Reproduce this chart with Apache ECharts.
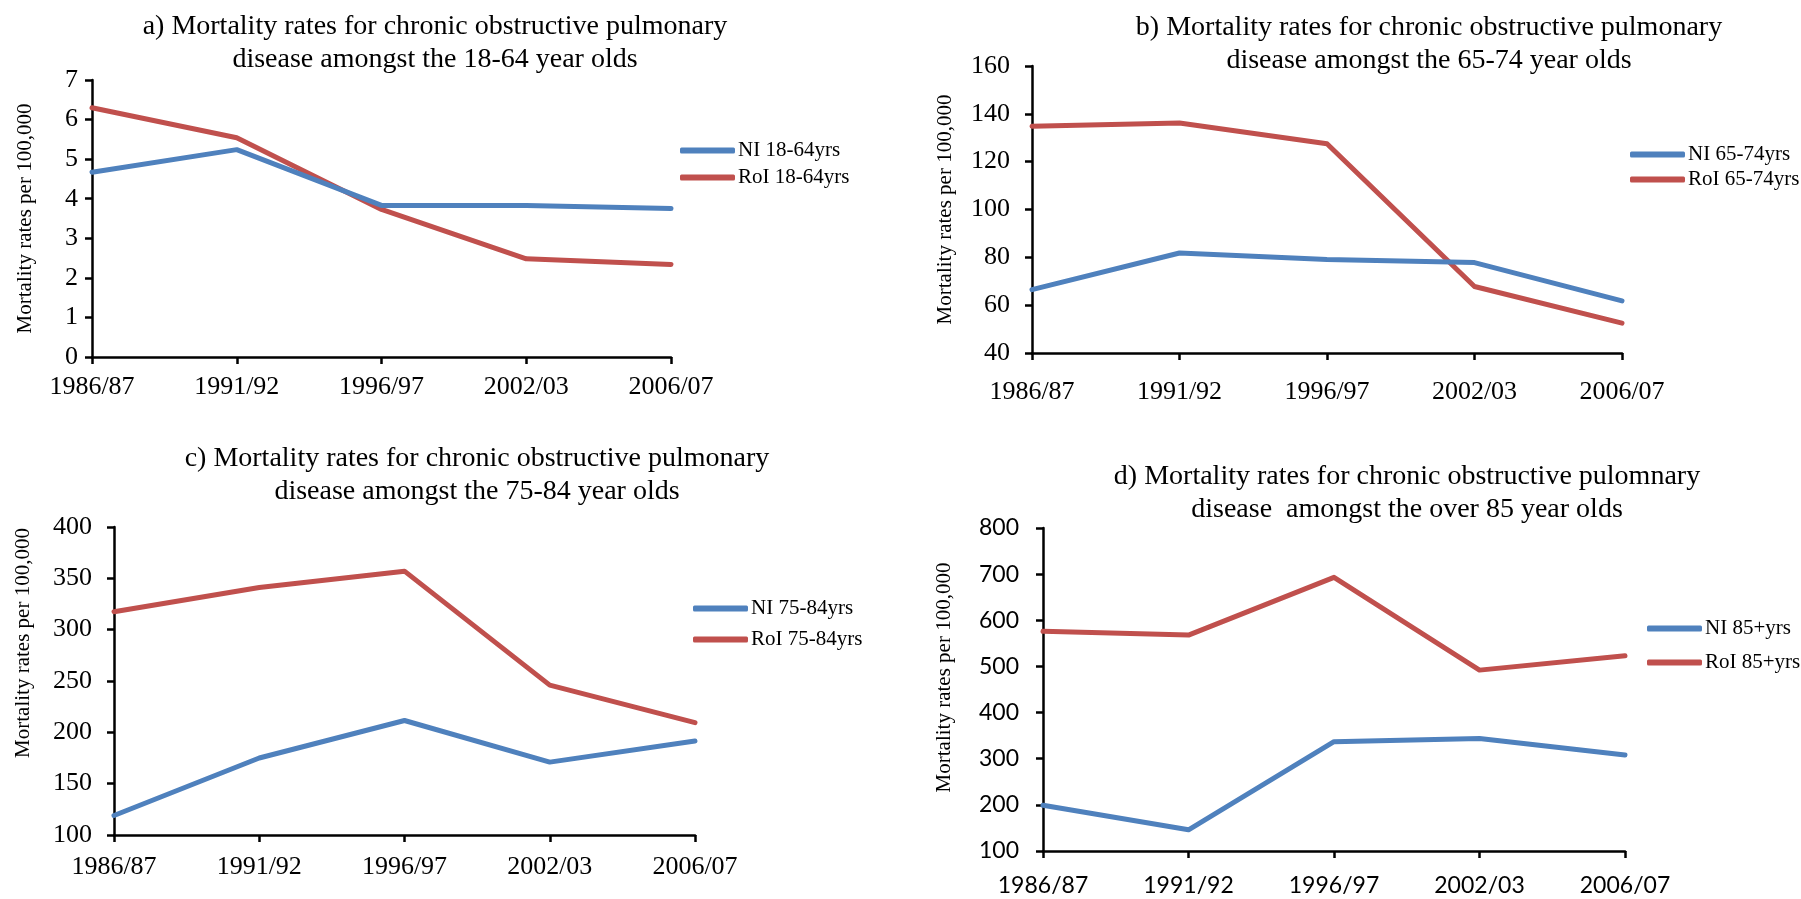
<!DOCTYPE html>
<html>
<head>
<meta charset="utf-8">
<script src="https://cdn.jsdelivr.net/npm/echarts@6/dist/echarts.min.js"></script>
<style>
html,body{margin:0;padding:0;background:#fff;}
#chart{width:1801px;height:899px;}
</style>
</head>
<body>
<div id="chart"></div>
<script>
// ---- data ----
const categories = ['1986/87', '1991/92', '1996/97', '2002/03', '2006/07'];

const niA = [4.67, 5.24, 3.83, 3.83, 3.75];
const roiA = [6.30, 5.54, 3.73, 2.48, 2.34];

const niB = [66.5, 81.8, 79.1, 77.8, 61.8];
const roiB = [134.8, 136.2, 127.5, 67.8, 52.5];

const niC = [119, 175, 211.5, 171, 191.5];
const roiC = [317.5, 341, 357, 246, 209.5];

const niD = [199, 146, 337, 344, 308];
const roiD = [576, 568, 693, 492, 523];

const titles = [
  'a) Mortality rates for chronic obstructive pulmonary\ndisease amongst the 18-64 year olds',
  'b) Mortality rates for chronic obstructive pulmonary\ndisease amongst the 65-74 year olds',
  'c) Mortality rates for chronic obstructive pulmonary\ndisease amongst the 75-84 year olds',
  'd) Mortality rates for chronic obstructive pulomnary\ndisease  amongst the over 85 year olds'
];
const legendNames = [
  ['NI 18-64yrs', 'RoI 18-64yrs'],
  ['NI 65-74yrs', 'RoI 65-74yrs'],
  ['NI 75-84yrs', 'RoI 75-84yrs'],
  ['NI 85+yrs', 'RoI 85+yrs']
];
const yName = 'Mortality rates per 100,000';
const yRanges = [
  {min: 0, max: 7, interval: 1},
  {min: 40, max: 160, interval: 20},
  {min: 100, max: 400, interval: 50},
  {min: 100, max: 800, interval: 100}
];
const seriesData = [[niA, roiA], [niB, roiB], [niC, roiC], [niD, roiD]];

// ---- layout / style ----
const SERIF = 'Liberation Serif';
const SANS = 'Lato';
const BLUE = '#4F81BD';
const RED = '#C0504D';

const grids = [
  {left: 92, top: 80, width: 579, height: 277},
  {left: 1032, top: 66, width: 590, height: 287},
  {left: 114, top: 527, width: 581, height: 308},
  {left: 1043, top: 528, width: 582, height: 323}
];
const titlePos = [
  {left: 430, top: 5},
  {left: 1424, top: 6},
  {left: 472, top: 437},
  {left: 1402, top: 455}
];
const legendPos = [
  {left: 680, top: 140, gap: 6},
  {left: 1630, top: 144, gap: 4},
  {left: 693, top: 598, gap: 10},
  {left: 1647, top: 618, gap: 13}
];
const tickFonts = [SERIF, SERIF, SERIF, SANS];
const tickSizes = [26, 26, 26, 23];
const yLabelMargin = [14, 22, 22, 24];
const xLabelMargin = [17, 26, 19, 23];
const nameGaps = [56, 76, 80, 88];
const namePad = [[0,0,0,0],[0,0,0,0],[0,0,0,76],[0,0,0,24]];

const option = {
  backgroundColor: '#ffffff',
  animation: false,
  title: titles.map((t, i) => ({
    text: t,
    left: titlePos[i].left,
    top: titlePos[i].top,
    textAlign: 'center',
    textStyle: {fontFamily: SERIF, fontSize: 28, fontWeight: 'normal', color: '#000', lineHeight: 33}
  })),
  legend: legendNames.map((names, i) => ({
    data: names,
    orient: 'vertical',
    left: legendPos[i].left,
    top: legendPos[i].top,
    itemGap: legendPos[i].gap,
    itemWidth: 55,
    itemHeight: 6,
    icon: 'roundRect',
    padding: 0,
    textStyle: {fontFamily: SERIF, fontSize: 21, color: '#000', padding: [0, 0, 0, -2]}
  })),
  grid: grids.map(g => Object.assign({containLabel: false, outerBoundsMode: 'none'}, g)),
  xAxis: grids.map((g, i) => ({
    type: 'category',
    gridIndex: i,
    data: categories,
    boundaryGap: false,
    axisLine: {lineStyle: {color: '#000', width: 2.5}},
    axisTick: {show: true, length: 7, lineStyle: {color: '#000', width: 2.5}},
    axisLabel: {fontFamily: tickFonts[i], fontSize: tickSizes[i], color: '#000', margin: xLabelMargin[i]},
    splitLine: {show: false}
  })),
  yAxis: grids.map((g, i) => ({
    type: 'value',
    gridIndex: i,
    min: yRanges[i].min,
    max: yRanges[i].max,
    interval: yRanges[i].interval,
    name: yName,
    nameLocation: 'middle',
    nameGap: nameGaps[i],
    nameRotate: 90,
    nameTextStyle: {fontFamily: SERIF, fontSize: 21, color: '#000', padding: namePad[i]},
    axisLine: {show: true, lineStyle: {color: '#000', width: 2.5}},
    axisTick: {show: true, length: 7, lineStyle: {color: '#000', width: 2.5}},
    axisLabel: {fontFamily: tickFonts[i], fontSize: tickSizes[i], color: '#000', margin: yLabelMargin[i]},
    splitLine: {show: false}
  })),
  series: []
};

seriesData.forEach((pair, i) => {
  pair.forEach((vals, j) => {
    option.series.push({
      type: 'line',
      name: legendNames[i][j],
      xAxisIndex: i,
      yAxisIndex: i,
      data: vals,
      symbol: 'none',
      showSymbol: false,
      lineStyle: {color: j === 0 ? BLUE : RED, width: 5, cap: 'round', join: 'round'},
      itemStyle: {color: j === 0 ? BLUE : RED},
      z: j === 0 ? 3 : 2
    });
  });
});

const chart = echarts.init(document.getElementById('chart'), null, {renderer: 'canvas'});
chart.setOption(option);
</script>
</body>
</html>
